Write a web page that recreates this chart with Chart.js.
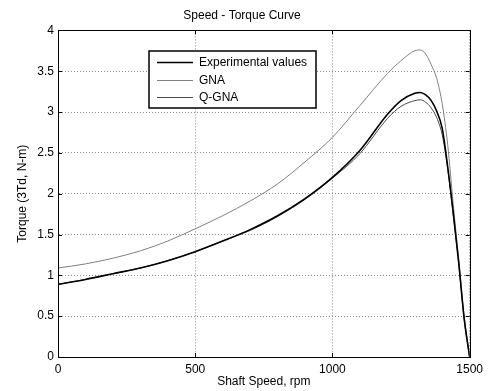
<!DOCTYPE html>
<html>
<head>
<meta charset="UTF-8">
<script src="https://cdn.jsdelivr.net/npm/chart.js@4.4.0/dist/chart.umd.min.js"></script>
<style>
  * { margin: 0; padding: 0; }
  body { background: #fff; width: 488px; height: 391px; overflow: hidden; }
  #wrap { position: relative; width: 488px; height: 391px; }
</style>
</head>
<body>
<div id="wrap"><canvas id="c"></canvas></div>
<script>
// shaft speed (rpm) sample points
const speed = [0, 100, 200, 300, 400, 500, 600, 700, 800, 900, 1000, 1100, 1200, 1250, 1300, 1320, 1340, 1360, 1380, 1400, 1420, 1440, 1460, 1480, 1500]

// torque (N-m)
const experimental = [0.89, 0.95, 1.02, 1.09, 1.18, 1.29, 1.42, 1.56, 1.73, 1.94, 2.20, 2.53, 2.97, 3.14, 3.23, 3.24, 3.21, 3.14, 3.01, 2.80, 2.33, 1.77, 1.16, 0.47, 0]
const gna          = [1.09, 1.14, 1.21, 1.30, 1.42, 1.57, 1.73, 1.91, 2.12, 2.39, 2.69, 3.08, 3.47, 3.63, 3.75, 3.76, 3.71, 3.58, 3.41, 3.10, 2.60, 1.88, 1.20, 0.50, 0]
const qgna         = [0.89, 0.95, 1.02, 1.09, 1.18, 1.29, 1.42, 1.55, 1.72, 1.93, 2.19, 2.49, 2.92, 3.07, 3.14, 3.15, 3.12, 3.05, 2.93, 2.72, 2.30, 1.75, 1.15, 0.47, 0]

const seriesNames = ['Experimental values', 'GNA', 'Q-GNA']
const xTicks = [0, 500, 1000, 1500]

const FONT   = { family: 'Liberation Sans, Arial, sans-serif', size: 12 }
const GRID   = { color: '#8a8a8a', lineWidth: 1, drawTicks: false }
const BORDER = { color: '#000', dash: [1, 2] }   // v4: dash applies to the grid lines

const toXY = ys => speed.map((x, i) => ({ x, y: ys[i] }))

// matlab-like frame, inward ticks and boxed legend
const matlabFrame = {
  id: 'matlabFrame',
  afterDraw(chart) {
    const { ctx, chartArea: a, scales } = chart
    ctx.save()
    ctx.strokeStyle = '#000'
    ctx.lineWidth = 1
    ctx.strokeRect(Math.round(a.left) + 0.5, Math.round(a.top) + 0.5, Math.round(a.right - a.left), Math.round(a.bottom - a.top))
    ctx.beginPath()
    for (const t of scales.x.ticks) {
      const px = Math.round(scales.x.getPixelForValue(t.value)) + 0.5
      ctx.moveTo(px, a.bottom); ctx.lineTo(px, a.bottom - 4)
      ctx.moveTo(px, a.top); ctx.lineTo(px, a.top + 4)
    }
    for (const t of scales.y.ticks) {
      const py = Math.round(scales.y.getPixelForValue(t.value)) + 0.5
      ctx.moveTo(a.left, py); ctx.lineTo(a.left + 4, py)
      ctx.moveTo(a.right, py); ctx.lineTo(a.right - 4, py)
    }
    ctx.stroke()

    // legend box
    const bx = 149, by = 51, bw = 167, bh = 57
    ctx.fillStyle = '#fff'
    ctx.fillRect(bx, by, bw, bh)
    ctx.strokeStyle = '#000'
    ctx.lineWidth = 1.5
    ctx.strokeRect(bx, by, bw, bh)
    ctx.font = `${FONT.size}px ${FONT.family}`
    ctx.textBaseline = 'middle'
    const rows = [62, 80, 97]
    chart.data.datasets.forEach((ds, i) => {
      ctx.strokeStyle = ds.borderColor
      ctx.lineWidth = ds.borderWidth
      ctx.beginPath()
      ctx.moveTo(157, rows[i] + 0.5); ctx.lineTo(193, rows[i] + 0.5)
      ctx.stroke()
      ctx.fillStyle = '#000'
      ctx.fillText(ds.label, 199, rows[i] + 1)
    })
    ctx.restore()
  }
}

new Chart(document.getElementById('c'), {
  type: 'line',
  data: {
    datasets: [
      { label: seriesNames[0], data: toXY(experimental), borderColor: '#000', borderWidth: 1.6 },
      { label: seriesNames[1], data: toXY(gna), borderColor: '#808080', borderWidth: 1 },
      { label: seriesNames[2], data: toXY(qgna), borderColor: '#4a4a4a', borderWidth: 1 },
    ]
  },
  options: {
    responsive: true, maintainAspectRatio: false, animation: false,
    elements: { point: { radius: 0 }, line: { cubicInterpolationMode: 'monotone', fill: false } },
    layout: { padding: { left: 11, right: 15, top: 0, bottom: 0 } },
    plugins: {
      legend: { display: false },
      tooltip: { enabled: false },
      title: { display: true, text: 'Speed - Torque Curve', color: '#000', font: { ...FONT, weight: 'normal' }, padding: { top: 8, bottom: 8 } }
    },
    scales: {
      x: {
        type: 'linear', min: 0, max: 1500,
        afterBuildTicks: s => { s.ticks = xTicks.map(v => ({ value: v })) },
        afterFit: s => { s.height = 34 },
        grid: GRID,
        border: BORDER,
        ticks: { color: '#000', font: FONT, padding: 5, maxRotation: 0, callback: v => String(v) },
        title: { display: true, text: 'Shaft Speed, rpm', color: '#000', font: FONT, padding: { top: 0, bottom: 2 } }
      },
      y: {
        min: 0, max: 4,
        afterFit: s => { s.width = 47 },
        grid: GRID,
        border: BORDER,
        ticks: { stepSize: 0.5, color: '#000', font: FONT, padding: 4, callback: v => String(v) },
        title: { display: true, text: 'Torque (3Td, N-m)', color: '#000', font: FONT, padding: { top: 4, bottom: 4 } }
      }
    }
  },
  plugins: [matlabFrame]
})
</script>
</body>
</html>
